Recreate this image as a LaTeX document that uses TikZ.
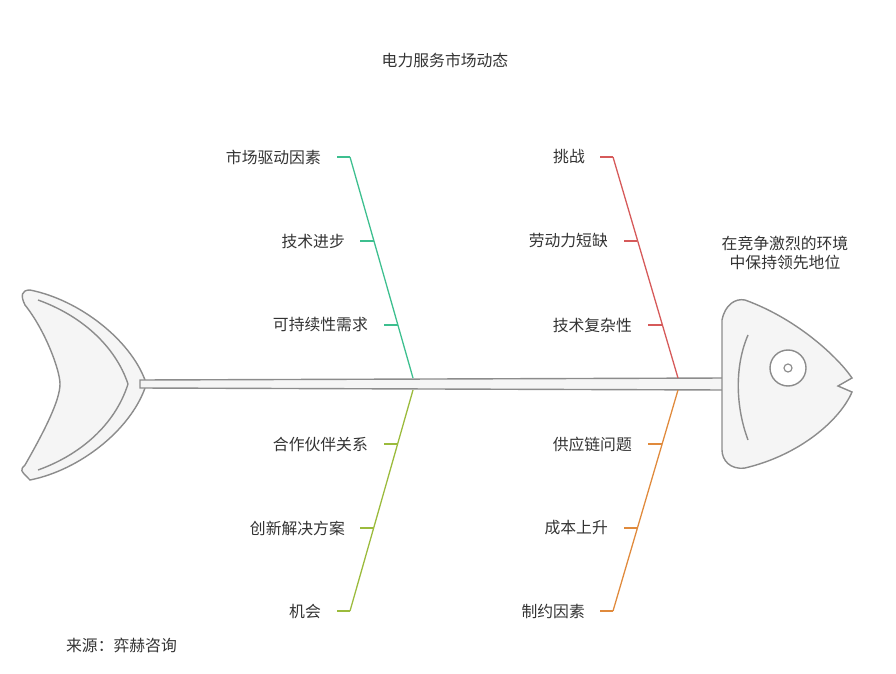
\documentclass[tikz,border=0pt]{standalone}
\usepackage{fontspec}
\setmainfont{Noto Sans CJK SC}
\begin{document}
\begin{tikzpicture}[x=0.03cm,y=-0.03cm]
\tikzset{lbl/.style = {font=\fontsize{13.5}{17}\selectfont, text=black!80}}
\tikzset{fishpart/.style = {draw=black!45, line width=1.2pt, fill=black!4}}
\tikzset{bone/.style = {line width=1.1pt}}
\definecolor{cA}{HTML}{3DBF8F}
\definecolor{cB}{HTML}{D65A5A}
\definecolor{cC}{HTML}{9BBB3C}
\definecolor{cD}{HTML}{E08A3C}
\useasboundingbox (0,0) rectangle (896,674);
%title
\node[lbl] (title) at (445,60) {电力服务市场动态};
%tail
\draw[fishpart] (30,290) .. controls (80,300) and (130,340) .. (145,380)
  -- (145,388) .. controls (130,430) and (80,470) .. (30,480)
  .. controls (20,470) and (20,470) .. (25,465)
  .. controls (45,430) and (60,400) .. (60,384)
  .. controls (60,370) and (45,330) .. (25,305)
  .. controls (20,295) and (22,290) .. (30,290) -- cycle;
\draw[draw=black!45, line width=1.2pt] (38,300) .. controls (80,315) and (115,345) .. (128,384)
  .. controls (115,425) and (80,455) .. (38,470);
%spine
\draw[fishpart] (140,380) -- (725,378) -- (725,390) -- (140,388) -- cycle;
%head
\draw[fishpart] (722,320) .. controls (725,305) and (735,298) .. (745,300)
  .. controls (800,320) and (840,360) .. (852,378)
  -- (838,386) -- (852,392)
  .. controls (840,420) and (800,455) .. (745,468)
  .. controls (730,470) and (722,460) .. (722,450) -- cycle;
\draw[draw=black!45, line width=1.2pt] (748,335) .. controls (735,365) and (735,405) .. (748,440);
\node[circle, draw=black!45, line width=1.2pt, fill=white, minimum size=36*0.03cm] (eye) at (788,368) {};
\node[circle, draw=black!45, line width=1pt, minimum size=8*0.03cm, inner sep=0pt] (pupil) at (788,368) {};
%goal
\node[lbl, align=center] (goal) at (785,253) {在竞争激烈的环境\\中保持领先地位};
%bones
\coordinate (a0) at (413,378); \coordinate (a1) at (350,157);
\coordinate (b0) at (678,378); \coordinate (b1) at (613,157);
\coordinate (c0) at (413,390); \coordinate (c1) at (350,611);
\coordinate (d0) at (678,390); \coordinate (d1) at (613,611);
\draw[bone, cA] (a0) -- (a1);
\draw[bone, cB] (b0) -- (b1);
\draw[bone, cC] (c0) -- (c1);
\draw[bone, cD] (d0) -- (d1);
%labels
\node[lbl, anchor=east] (a1t) at (325,157) {市场驱动因素};
\node[lbl, anchor=east] (a2t) at (349,241) {技术进步};
\node[lbl, anchor=east] (a3t) at (372,325) {可持续性需求};
\node[lbl, anchor=east] (b1t) at (589,157) {挑战};
\node[lbl, anchor=east] (b2t) at (612,241) {劳动力短缺};
\node[lbl, anchor=east] (b3t) at (636,325) {技术复杂性};
\node[lbl, anchor=east] (c1t) at (372,444) {合作伙伴关系};
\node[lbl, anchor=east] (c2t) at (349,528) {创新解决方案};
\node[lbl, anchor=east] (c3t) at (325,611) {机会};
\node[lbl, anchor=east] (d1t) at (636,444) {供应链问题};
\node[lbl, anchor=east] (d2t) at (612,528) {成本上升};
\node[lbl, anchor=east] (d3t) at (589,611) {制约因素};
%ticks
\draw[bone, cA] (337,157) -- (350,157);
\draw[bone, cA] (360,241) -- (374,241);
\draw[bone, cA] (384,325) -- (398,325);
\draw[bone, cB] (600,157) -- (613,157);
\draw[bone, cB] (624,241) -- (637,241);
\draw[bone, cB] (648,325) -- (662,325);
\draw[bone, cC] (384,444) -- (398,444);
\draw[bone, cC] (360,528) -- (374,528);
\draw[bone, cC] (337,611) -- (350,611);
\draw[bone, cD] (648,444) -- (662,444);
\draw[bone, cD] (624,528) -- (637,528);
\draw[bone, cD] (600,611) -- (613,611);
%source
\node[lbl, anchor=west] (src) at (62,645) {来源：弈赫咨询};
\end{tikzpicture}
\end{document}
